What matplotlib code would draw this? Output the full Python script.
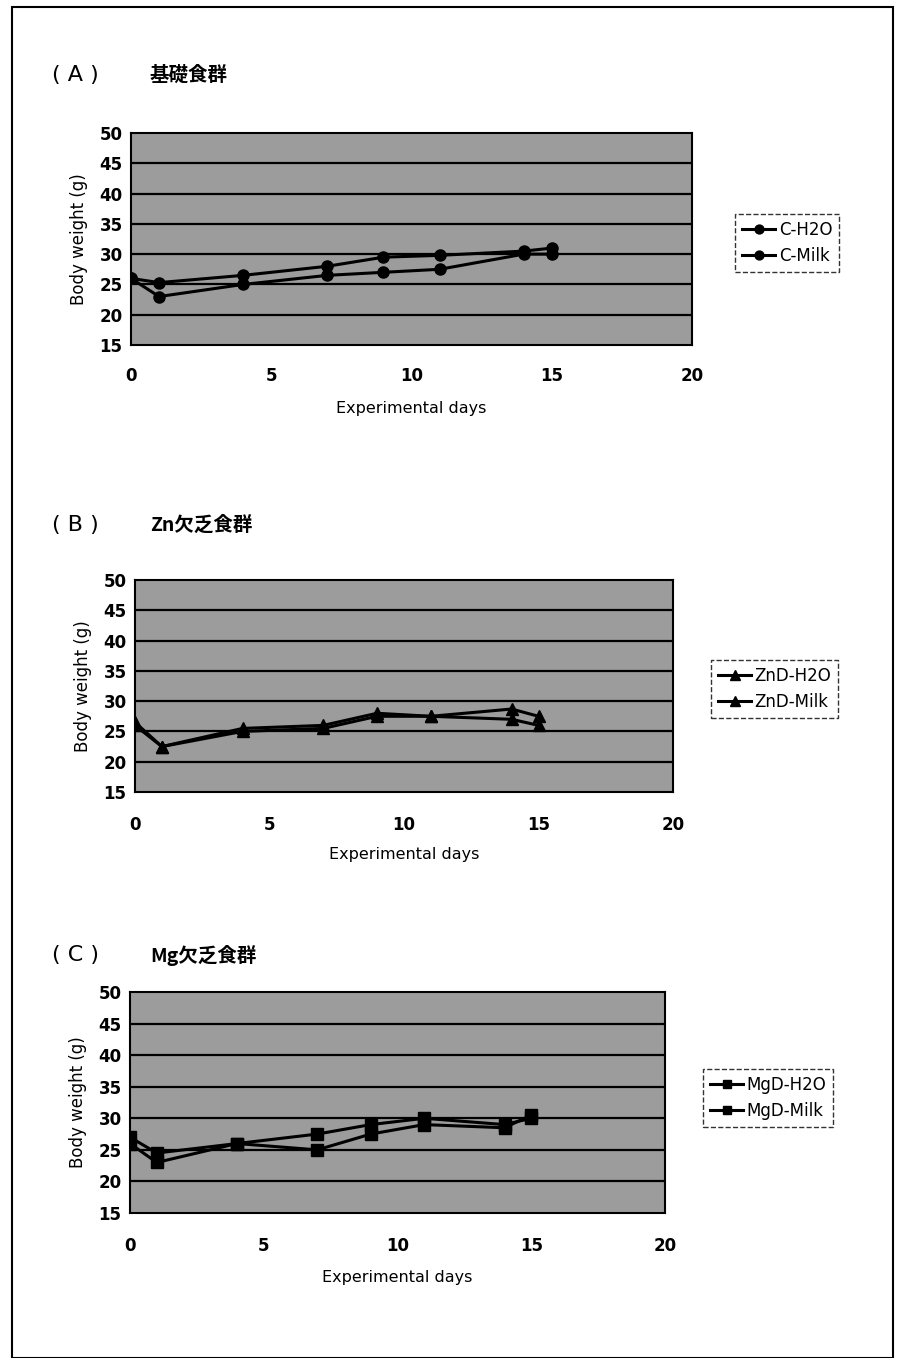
import numpy as np
import matplotlib
matplotlib.use('Agg')
import matplotlib.pyplot as plt
from matplotlib.patches import Rectangle

plt.rcParams['font.family'] = ['DejaVu Sans', 'Noto Sans CJK JP']

# sampling days (same for every group)
days = [0, 1, 4, 7, 9, 11, 14, 15]

# body weight (g), basal diet
c_h2o = [26.0, 25.3, 26.5, 28.0, 29.5, 29.8, 30.5, 31.0]
c_milk = [26.0, 23.0, 25.0, 26.5, 27.0, 27.5, 30.0, 30.0]

# Zn deficient diet
znd_h2o = [26.5, 22.5, 25.5, 26.0, 28.0, 27.5, 28.7, 27.5]
znd_milk = [26.0, 22.5, 25.0, 25.5, 27.5, 27.5, 27.0, 26.0]

# Mg deficient diet
mgd_h2o = [27.0, 24.5, 26.0, 27.5, 29.0, 30.0, 29.0, 30.0]
mgd_milk = [26.0, 23.0, 26.0, 25.0, 27.5, 29.0, 28.5, 30.5]

y_ticks = [15, 20, 25, 30, 35, 40, 45, 50]
x_ticks = [0, 5, 10, 15, 20]

W, H = 898, 1358


def px_axes(fig, x0, y0, x1, y1):
    # axes from pixel box (top-left origin)
    return fig.add_axes([x0 / W, 1 - y1 / H, (x1 - x0) / W, (y1 - y0) / H])


def draw_panel(fig, box, letter, title, title_y, series, names, marker, ms,
               leg_anchor, xt_y, xl_y):
    ax = px_axes(fig, *box)
    ax.set_facecolor('#9c9c9c')
    for y in y_ticks[1:-1]:
        ax.axhline(y, color='black', lw=1.6, zorder=1)
    for vals, name in zip(series, names):
        ax.plot(days, vals, color='black', lw=2.2, marker=marker, ms=ms,
                label=name, zorder=3)
    ax.set_xlim(0, 20)
    ax.set_ylim(15, 50)
    ax.set_yticks(y_ticks)
    ax.set_xticks(x_ticks)
    ax.tick_params(length=0, labelsize=12)
    ax.tick_params(axis='x', pad=xt_y)
    ax.tick_params(axis='y', pad=6)
    for lab in ax.get_xticklabels() + ax.get_yticklabels():
        lab.set_fontweight('bold')
    for sp in ax.spines.values():
        sp.set_color('black')
        sp.set_linewidth(1.5)
    ax.set_ylabel('Body weight (g)', fontsize=12, labelpad=8)
    ax.set_xlabel('Experimental days', fontsize=11.5, labelpad=xl_y)

    fig.text(52 / W, 1 - title_y / H, f'( {letter} )', fontsize=16,
             va='center', ha='left')
    fig.text(150 / W, 1 - title_y / H, title, fontsize=14, fontweight='bold',
             va='center', ha='left', family=['Noto Sans CJK JP'])

    leg = ax.legend(loc='center left',
                    bbox_to_anchor=(leg_anchor[0] / W, 1 - leg_anchor[1] / H),
                    bbox_transform=fig.transFigure, fontsize=12,
                    frameon=True, fancybox=False, handlelength=2.0,
                    handletextpad=0.2, borderpad=0.4, labelspacing=0.5,
                    markerscale=0.8)
    leg.get_frame().set_edgecolor('black')
    leg.get_frame().set_linestyle('--')
    leg.get_frame().set_linewidth(1.0)
    return ax


fig = plt.figure(figsize=(W / 100, H / 100), dpi=100)

# outer frame
fig.patches.append(Rectangle((12 / W, 0), (893 - 12) / W, 1 - 7 / H,
                             transform=fig.transFigure, fill=False,
                             edgecolor='black', lw=1.5))

draw_panel(fig, (131, 133, 692, 345), 'A', '基礎食群', 75,
           [c_h2o, c_milk], ['C-H2O', 'C-Milk'], 'o', 8,
           (727, 243), 16, 11)
draw_panel(fig, (135, 580, 673, 792), 'B', 'Zn欠乏食群', 525,
           [znd_h2o, znd_milk], ['ZnD-H2O', 'ZnD-Milk'], '^', 9,
           (703, 689), 17, 10)
draw_panel(fig, (130, 992, 665, 1213), 'C', 'Mg欠乏食群', 955,
           [mgd_h2o, mgd_milk], ['MgD-H2O', 'MgD-Milk'], 's', 8,
           (695, 1098), 17, 11)

fig.savefig('out.png', dpi=100)
